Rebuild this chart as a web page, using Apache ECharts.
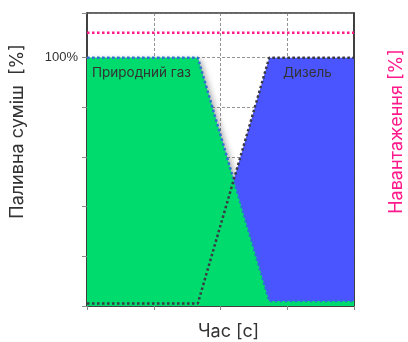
<!DOCTYPE html>
<html>
<head>
<meta charset="utf-8">
<script src="https://cdn.jsdelivr.net/npm/echarts@6/dist/echarts.min.js"></script>
<style>
  html, body { margin: 0; padding: 0; background: #fff; }
  #main { width: 408px; height: 342px; }
</style>
</head>
<body>
<div id="main"></div>
<script>
// fuel mix vs time
var gasData = [[0, 100], [1.66, 100], [2.73, 2], [4, 2]];
var dieselData = [[0, 1], [1.66, 1], [2.73, 100], [4, 100]];
var loadData = [[0, 110], [4, 110]];

var myChart = echarts.init(document.getElementById('main'));
var font = 'Inter';

var option = {
  animation: false,
  grid: {
    left: 87, right: 54, top: 13, bottom: 36,
    outerBoundsMode: 'none', containLabel: false,
    show: true, borderColor: '#333', borderWidth: 1.5
  },
  xAxis: {
    type: 'value', min: 0, max: 4, interval: 1,
    name: 'Час [с]', nameLocation: 'middle', nameGap: 17,
    nameTextStyle: { fontFamily: font, fontSize: 18, color: '#333', padding: [0, 0, 0, 16] },
    axisLabel: { show: false },
    axisTick: { show: true, length: 4, lineStyle: { color: '#888' } },
    axisLine: { lineStyle: { color: '#333', width: 1.5 } },
    splitLine: { lineStyle: { color: '#777', type: [3, 2], width: 0.8 } }
  },
  yAxis: [{
    type: 'value', min: 0, max: 118, interval: 20,
    name: 'Паливна суміш  [%]', nameLocation: 'middle', nameGap: 60, nameRotate: 90,
    nameTextStyle: { fontFamily: font, fontSize: 18, color: '#333', padding: [0, 0, 0, 56] },
    axisLabel: {
      fontFamily: 'Liberation Sans', fontSize: 13, color: '#333', margin: 9,
      formatter: function (v) { return v === 100 ? '100%' : ''; }
    },
    axisTick: { show: true, length: 5, lineStyle: { color: '#888' } },
    axisLine: { show: true, lineStyle: { color: '#333', width: 1.5 } },
    splitLine: { lineStyle: { color: '#777', type: [3, 2], width: 0.8 } }
  }, {
    type: 'value', min: 0, max: 118, position: 'right',
    name: 'Навантаження [%]', nameLocation: 'middle', nameGap: 34, nameRotate: 90,
    nameTextStyle: { fontFamily: font, fontSize: 18, color: '#ff1a8c', padding: [0, 0, 0, 56] },
    axisLabel: { show: false }, axisTick: { show: false },
    axisLine: { show: true, lineStyle: { color: '#333', width: 1.5 } },
    splitLine: { show: false }
  }],
  series: [{
    // gas area drawn once underneath only for its shadow
    type: 'line', data: gasData, symbol: 'none', z: 1,
    lineStyle: { width: 0 },
    areaStyle: { color: '#00db6e', opacity: 1, shadowBlur: 6, shadowColor: 'rgba(0,0,0,0.35)', shadowOffsetX: 3, shadowOffsetY: 2 }
  }, {
    name: 'Дизель', type: 'line', data: dieselData, symbol: 'none', z: 2,
    lineStyle: { width: 0 },
    areaStyle: { color: '#4b55ff', opacity: 1 }
  }, {
    name: 'Природний газ', type: 'line', data: gasData, symbol: 'none', z: 3,
    lineStyle: { width: 0 },
    areaStyle: { color: '#00db6e', opacity: 1 }
  }, {
    type: 'line', data: gasData, symbol: 'none', z: 4,
    lineStyle: { color: '#2f6fd6', width: 2.5, type: [2.5, 2.5] }
  }, {
    type: 'line', data: dieselData, symbol: 'none', z: 5,
    lineStyle: { color: '#3a3a44', width: 2.5, type: [2.5, 2.5] }
  }, {
    type: 'line', data: loadData, symbol: 'none', z: 6,
    lineStyle: { color: '#ff1a8c', width: 2.5, type: [2.5, 2.5] }
  }],
  graphic: [{
    type: 'text', left: 92, top: 66, z: 10,
    style: { text: 'Природний газ', fontFamily: font, fontSize: 13.5, fill: '#333' }
  }, {
    type: 'text', left: 283, top: 66, z: 10,
    style: { text: 'Дизель', fontFamily: font, fontSize: 13.5, fill: '#333' }
  }]
};

myChart.setOption(option);
</script>
</body>
</html>
